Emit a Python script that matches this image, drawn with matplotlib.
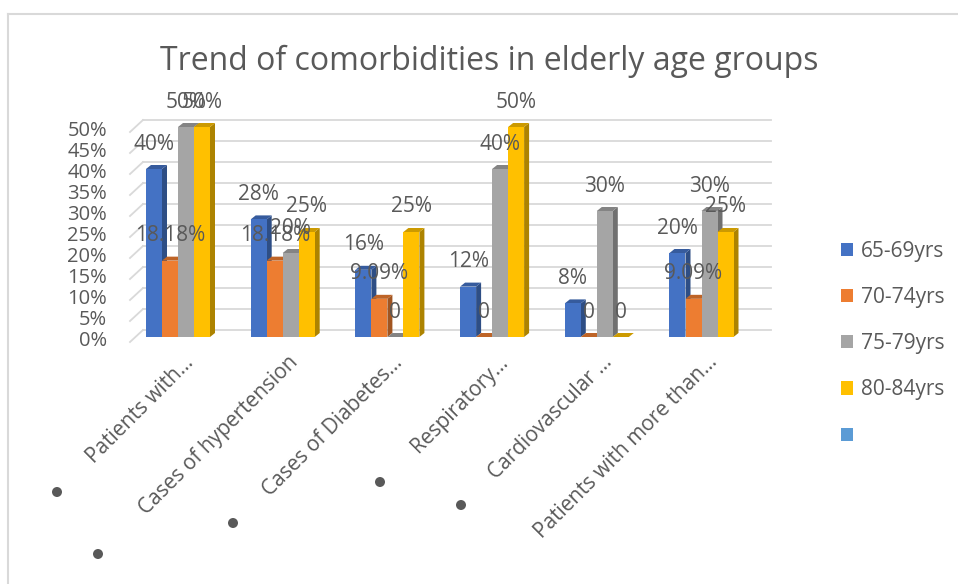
import matplotlib
matplotlib.use("Agg")
import matplotlib.pyplot as plt
from matplotlib.patches import Polygon, Rectangle, Circle
from matplotlib.lines import Line2D

plt.rcParams['font.family'] = ['Open Sans', 'DejaVu Sans']

# ---- data ----
title = "Trend of comorbidities in elderly age groups"
categories = ["Patients with…", "Cases of hypertension", "Cases of Diabetes…",
              "Respiratory…", "Cardiovascular …", "Patients with more than…"]
series_names = ["65-69yrs", "70-74yrs", "75-79yrs", "80-84yrs", ""]
s_65_69 = [0.40, 0.28, 0.16, 0.12, 0.08, 0.20]
s_70_74 = [0.1818, 0.1818, 0.0909, 0.0, 0.0, 0.0909]
s_75_79 = [0.50, 0.20, 0.0, 0.40, 0.30, 0.30]
s_80_84 = [0.50, 0.25, 0.25, 0.50, 0.0, 0.25]
labels_65_69 = ["40%", "28%", "16%", "12%", "8%", "20%"]
labels_70_74 = ["18.18%", "18.18%", "9.09%", "0", "0", "9.09%"]
labels_75_79 = ["50%", "20%", "0", "40%", "30%", "30%"]
labels_80_84 = ["50%", "25%", "25%", "50%", "0", "25%"]
y_ticks = [0.0, 0.05, 0.10, 0.15, 0.20, 0.25, 0.30, 0.35, 0.40, 0.45, 0.50]

series = [s_65_69, s_70_74, s_75_79, s_80_84]
series_labels = [labels_65_69, labels_70_74, labels_75_79, labels_80_84]
colors = ["#4472C4", "#ED7D31", "#A5A5A5", "#FFC000", "#5B9BD5"]
TXT = "#595959"

def shade(hexc, f):
    r, g, b = matplotlib.colors.to_rgb(hexc)
    return (r * f, g * f, b * f)

# ---- layout ----
W, H = 958, 584
fig = plt.figure(figsize=(W / 100, H / 100), dpi=100)
x0_px, x1_px, y0_px, y1_px = 130, 771, 337, 127
cat_px0, cat_step = 178, 104.7
ax = fig.add_axes([x0_px / W, 1 - y0_px / H, (x1_px - x0_px) / W, (y0_px - y1_px) / H])
ax.set_xlim((x0_px - cat_px0) / cat_step, (x1_px - cat_px0) / cat_step)
ax.set_ylim(0, 0.5)
ax.axis('off')

px2x = 1 / cat_step
px2y = 0.5 / (y0_px - y1_px)
xmin = ax.get_xlim()[0]
xmax = ax.get_xlim()[1]
x_back = (143 - cat_px0) / cat_step

# gridlines (back wall) + diagonal side wall lines
for v in y_ticks:
    ax.add_line(Line2D([x_back, xmax], [v + 7 * px2y] * 2, color="#d9d9d9", lw=1.3,
                       clip_on=False, zorder=1))
    ax.add_line(Line2D([xmin, x_back], [v - 5 * px2y, v + 7 * px2y], color="#d9d9d9",
                       lw=1.3, clip_on=False, zorder=1))
    ax.text((107 - cat_px0) / cat_step, v - 4 * px2y, f"{int(round(v * 100))}%",
            ha='right', va='center', fontsize=14.5, color=TXT)

# 3D-looking bars
bw = 16 * px2x
dx, dy = 5 * px2x, 4 * px2y
n_s = len(series)
for s, (vals, labs) in enumerate(zip(series, series_labels)):
    c = colors[s]
    for i, h in enumerate(vals):
        xc = i + (s - (n_s - 1) / 2) * bw
        z = 3 + s
        ax.add_patch(Polygon([(xc + bw / 2, 0), (xc + bw / 2 + dx, dy),
                              (xc + bw / 2 + dx, h + dy), (xc + bw / 2, h)],
                             closed=True, facecolor=shade(c, 0.68), edgecolor='none',
                             zorder=z, clip_on=False))
        ax.add_patch(Polygon([(xc - bw / 2, h), (xc - bw / 2 + dx, h + dy),
                              (xc + bw / 2 + dx, h + dy), (xc + bw / 2, h)],
                             closed=True, facecolor=shade(c, 0.8), edgecolor='none',
                             zorder=z, clip_on=False))
        ax.bar(xc, h, width=bw, color=c, zorder=z, clip_on=False)
    for i, h in enumerate(vals):
        xc = i + (s - (n_s - 1) / 2) * bw
        ax.annotate(labs[i], (xc, h), xytext=(0, 25 * 0.72), textcoords='offset points',
                    ha='center', va='center', fontsize=15, color=TXT, zorder=20,
                    annotation_clip=False)

# category labels
for i, cat in enumerate(categories):
    ax.text(i + 5 * px2x, -15 * px2y, cat, rotation=45, rotation_mode='anchor',
            ha='right', va='top', fontsize=15, color=TXT)

# title
fig.text(489.5 / W, 1 - 70 / H, title, ha='center', va='baseline', fontsize=23, color=TXT)

# legend
handles = [Rectangle((0, 0), 1, 1, facecolor=colors[k], edgecolor='none')
           for k in range(len(series_names))]
fig.legend(handles, series_names, loc='upper left',
           bbox_to_anchor=(822 / W, 1 - 222 / H), frameon=False, fontsize=15,
           handlelength=0.6, handleheight=0.6, handletextpad=0.35,
           labelspacing=1.21, labelcolor=TXT)

# stray bullet dots
for (bx, by) in [(57, 492), (98, 554), (233, 523), (380, 482), (461, 505)]:
    fig.add_artist(Circle((bx / 100, (H - by) / 100), 0.05, transform=fig.dpi_scale_trans,
                          facecolor="#595959", edgecolor='none'))

# chart border
fig.add_artist(Line2D([8 / W, 1], [1 - 14 / H] * 2, transform=fig.transFigure,
                      color="#d9d9d9", lw=1.5))
fig.add_artist(Line2D([8 / W] * 2, [0, 1 - 14 / H], transform=fig.transFigure,
                      color="#d9d9d9", lw=1.5))

fig.savefig("out.png", dpi=100)
